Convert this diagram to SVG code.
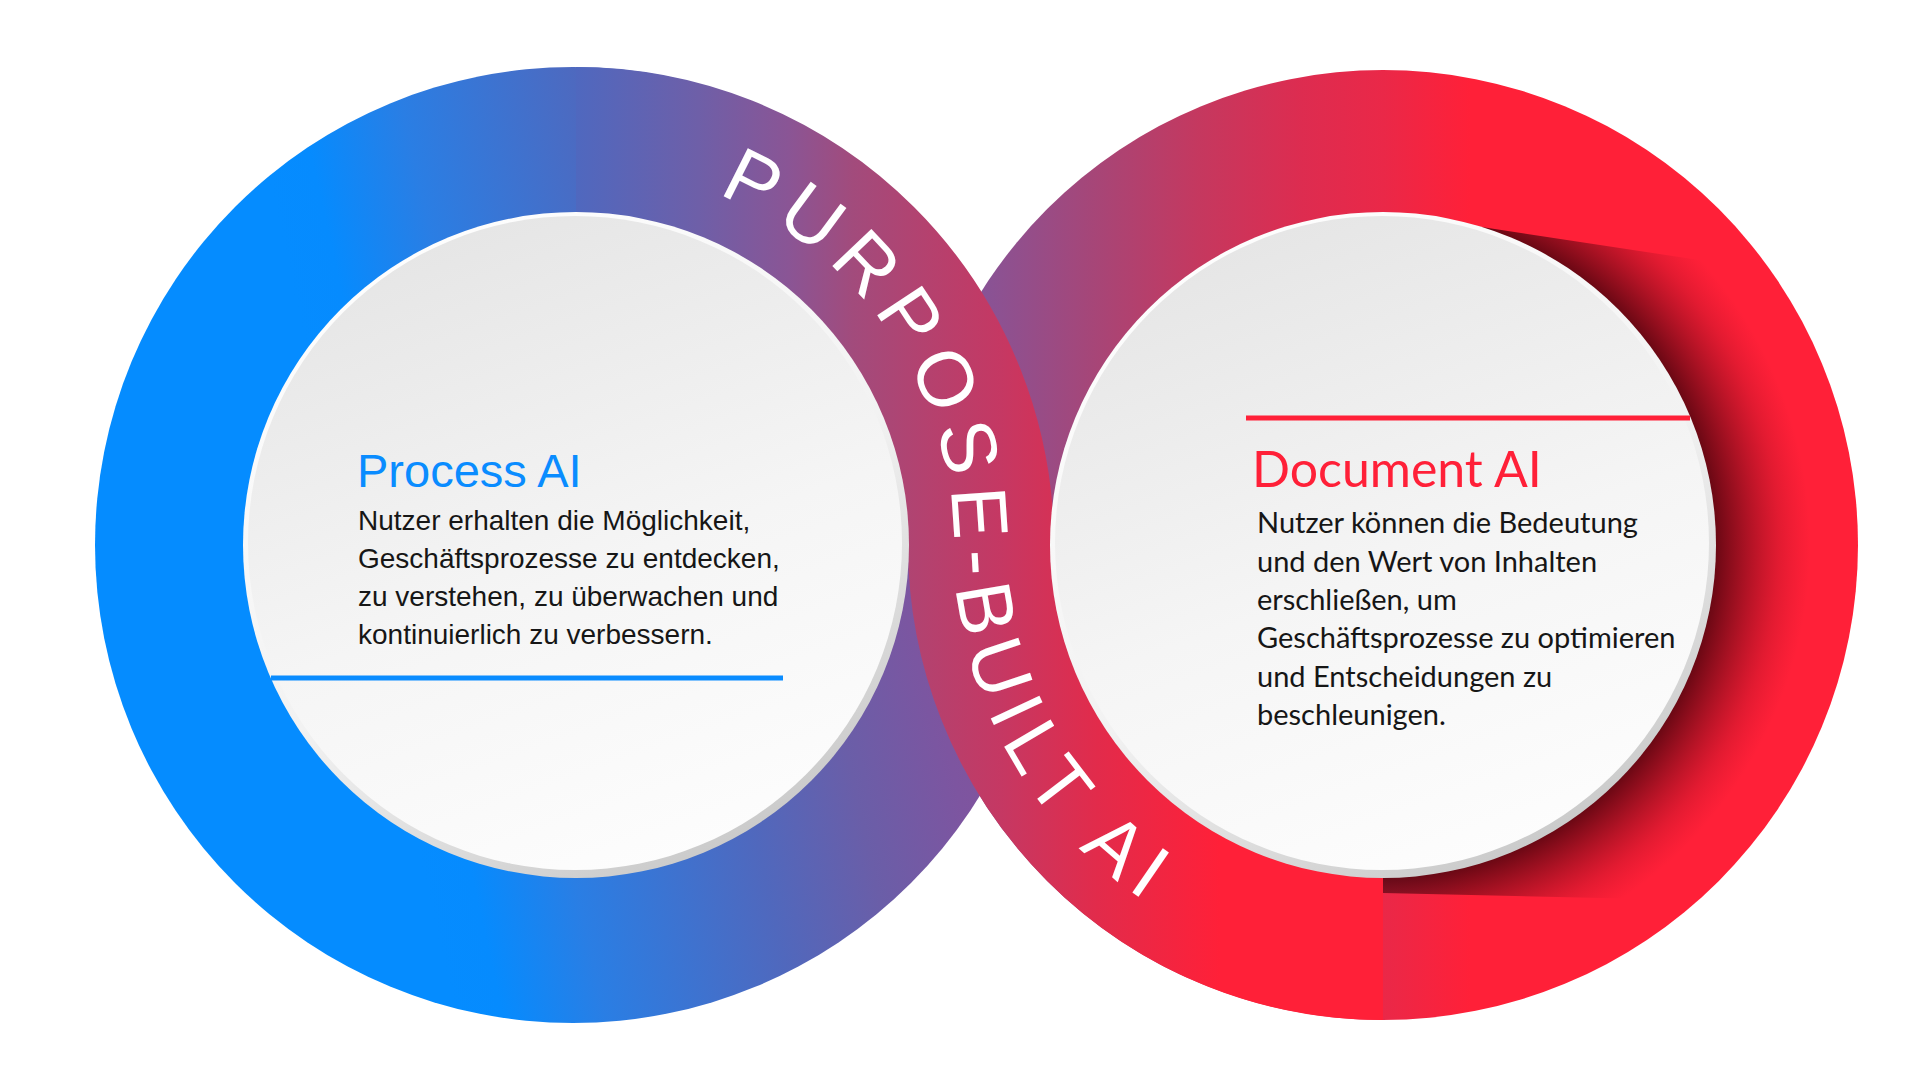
<svg xmlns="http://www.w3.org/2000/svg" width="1921" height="1081" viewBox="0 0 1921 1081">
  <style>
    .body-l { font-family: "Liberation Sans", Arial, sans-serif; font-size: 28px; fill: #161616; }
    .body-r { font-family: Lato, "Liberation Sans", sans-serif; font-size: 29px; fill: #161616; }
    .band { fill: none; }
    .arc-label { font-family: "Liberation Sans", Arial, sans-serif; font-size: 78px; fill: #ffffff; letter-spacing: 10.4px; }
  </style>
  <defs>
    <linearGradient id="gLeftRing" gradientUnits="userSpaceOnUse" x1="350" y1="545" x2="1000" y2="400">
      <stop offset="0" stop-color="#058CFF"/>
      <stop offset="0.07" stop-color="#068BFE"/>
      <stop offset="0.22" stop-color="#2A7EE4"/>
      <stop offset="0.5" stop-color="#5068BD"/>
      <stop offset="0.66" stop-color="#6A5EA8"/>
      <stop offset="0.81" stop-color="#7D55A0"/>
      <stop offset="1" stop-color="#8A5095"/>
    </linearGradient>
    <linearGradient id="gRightRing" gradientUnits="userSpaceOnUse" x1="960" y1="0" x2="1470" y2="0">
      <stop offset="0" stop-color="#82569C"/>
      <stop offset="0.275" stop-color="#A84576"/>
      <stop offset="0.47" stop-color="#C5385F"/>
      <stop offset="0.67" stop-color="#DD2C50"/>
      <stop offset="0.83" stop-color="#EA2848"/>
      <stop offset="1" stop-color="#FF2038"/>
    </linearGradient>
    <linearGradient id="gRibbon" gradientUnits="userSpaceOnUse" x1="576" y1="0" x2="1220" y2="0">
      <stop offset="0" stop-color="#4F68BF"/>
      <stop offset="0.19" stop-color="#6E5FA8"/>
      <stop offset="0.33" stop-color="#8A5595"/>
      <stop offset="0.43" stop-color="#A24B7C"/>
      <stop offset="0.55" stop-color="#B5416E"/>
      <stop offset="0.66" stop-color="#C53863"/>
      <stop offset="0.81" stop-color="#E22B4B"/>
      <stop offset="1" stop-color="#FF2038"/>
    </linearGradient>
    <linearGradient id="gRim" x1="0.2" y1="0" x2="0.75" y2="1">
      <stop offset="0" stop-color="#FFFFFF"/>
      <stop offset="0.55" stop-color="#F2F2F2"/>
      <stop offset="1" stop-color="#C6C6C6"/>
    </linearGradient>
    <linearGradient id="gDisc" x1="0.3" y1="0" x2="0.65" y2="1">
      <stop offset="0" stop-color="#E5E5E5"/>
      <stop offset="0.55" stop-color="#F5F5F5"/>
      <stop offset="1" stop-color="#FDFDFD"/>
    </linearGradient>
    <radialGradient id="gShadow" gradientUnits="userSpaceOnUse" cx="1383" cy="545" r="450">
      <stop offset="0" stop-color="#3A0008" stop-opacity="0.75"/>
      <stop offset="0.74" stop-color="#3A0008" stop-opacity="0.75"/>
      <stop offset="0.8" stop-color="#4A020C" stop-opacity="0.5"/>
      <stop offset="0.88" stop-color="#6E0514" stop-opacity="0.2"/>
      <stop offset="0.95" stop-color="#960A1E" stop-opacity="0"/>
      <stop offset="1" stop-color="#960A1E" stop-opacity="0"/>
    </radialGradient>
    <clipPath id="cShadow">
      <polygon points="1383,215 1462,224 1870,286 1870,904 1383,893"/>
    </clipPath>
    <path id="ribbonPath" d="M 576,167 A 378 378 0 0 1 954,545 A 428 428 0 0 0 1308.7,966.5"/>
  </defs>

  <rect x="0" y="0" width="1921" height="1081" fill="#FFFFFF"/>

  <g id="ring-right">
    <circle cx="1383" cy="545" r="475" fill="url(#gRightRing)"/>
  </g>
  <g id="ring-left">
    <circle cx="573" cy="545" r="478" fill="url(#gLeftRing)"/>
  </g>
  <g id="ribbon">
    <path class="band" d="M 576,140.5 A 404.5 404.5 0 0 1 980.5,545" stroke="url(#gRibbon)" stroke-width="147"/>
    <path class="band" d="M 980,545 A 403 403 0 0 0 1383,948" stroke="url(#gRibbon)" stroke-width="144"/>
  </g>
  <g id="shadow-right" clip-path="url(#cShadow)">
    <circle cx="1383" cy="545" r="450" fill="url(#gShadow)"/>
  </g>

  <g id="node-process-ai">
    <circle cx="576" cy="545" r="333" fill="url(#gRim)"/>
    <circle cx="575" cy="543" r="327" fill="url(#gDisc)"/>
    <text x="357" y="487" font-family="'Liberation Sans', Arial, sans-serif" font-size="47" fill="#0A8CFF">Process AI</text>
    <text class="body-l" x="358" y="530">Nutzer erhalten die Möglichkeit,</text>
    <text class="body-l" x="358" y="568">Geschäftsprozesse zu entdecken,</text>
    <text class="body-l" x="358" y="606">zu verstehen, zu überwachen und</text>
    <text class="body-l" x="358" y="644">kontinuierlich zu verbessern.</text>
    <line x1="271" y1="678" x2="783" y2="678" stroke="#0A8CFF" stroke-width="5"/>
  </g>

  <g id="node-document-ai">
    <circle cx="1383" cy="545" r="333" fill="url(#gRim)"/>
    <circle cx="1382" cy="543" r="327" fill="url(#gDisc)"/>
    <line x1="1246" y1="418" x2="1690" y2="418" stroke="#FF2038" stroke-width="5"/>
    <text x="1252" y="487" font-family="Lato, 'Liberation Sans', sans-serif" font-size="50" fill="#FF2038">Document AI</text>
    <text class="body-r" x="1257" y="533">Nutzer können die Bedeutung</text>
    <text class="body-r" x="1257" y="572">und den Wert von Inhalten</text>
    <text class="body-r" x="1257" y="610">erschließen, um</text>
    <text class="body-r" x="1257" y="648">Geschäftsprozesse zu optimieren</text>
    <text class="body-r" x="1257" y="687">und Entscheidungen zu</text>
    <text class="body-r" x="1257" y="725">beschleunigen.</text>
  </g>

  <g id="label-purpose-built">
    <text class="arc-label"><textPath href="#ribbonPath" startOffset="145">PURPOSE-BUILT AI</textPath></text>
  </g>
</svg>
